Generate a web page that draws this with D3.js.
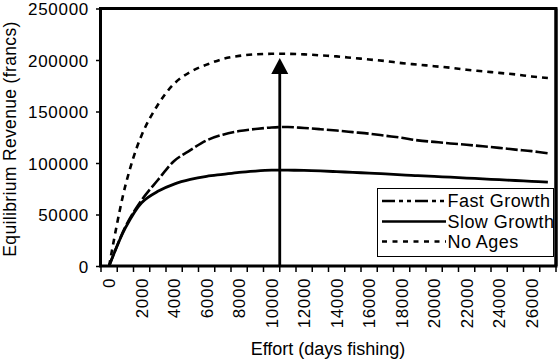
<!DOCTYPE html>
<html>
<head>
<meta charset="utf-8">
<script src="https://cdnjs.cloudflare.com/ajax/libs/d3/7.8.5/d3.min.js"></script>
<style>
  html, body { margin: 0; padding: 0; background: #fff; }
  svg { display: block; }
  text { font-family: "Liberation Sans", Arial, sans-serif; fill: #000; }
</style>
</head>
<body>
<svg id="chart" width="558" height="359"></svg>
<script>
// ---- data ----
const efforts = [0,1000,2000,3000,4000,5000,6000,7000,8000,9000,10000,11000,12000,13000,
                 14000,15000,16000,17000,18000,19000,20000,21000,22000,23000,24000,25000,26000,27000];
const fastGrowth = [0,38000,64000,83500,102000,112500,122000,127500,131000,133000,134500,135000,134000,132800,
                    131500,130000,128500,126500,124500,122000,120500,119000,117700,116200,114700,113000,111500,109500];
const slowGrowth = [0,37000,61500,72500,79500,84000,87000,89000,91000,92200,93000,93000,92800,92300,
                    91600,90900,90200,89500,88500,87800,87000,86200,85400,84600,83800,83000,82200,81400];
const noAges = [0,78000,127000,156500,177000,188500,195500,201000,204000,205500,206000,206000,205500,204500,
                203500,202000,200500,199000,197000,195500,194000,192500,190500,189000,187500,186000,184000,182500];
const yTicks = [0,50000,100000,150000,200000,250000];
const xLabels = [0,2000,4000,6000,8000,10000,12000,14000,16000,18000,20000,22000,24000,26000];
const seriesNames = ["Fast Growth","Slow Growth","No Ages"];
const arrowEffort = 10500;
const arrowTop = 202000;

// ---- layout ----
const svg = d3.select("#chart");
const L = 101, R = 556, T = 8.5, B = 266;
const step = 1000;
const x = d3.scaleLinear().domain([efforts[0] - step/2, efforts[efforts.length-1] + step/2]).range([L, R]);
const y = d3.scaleLinear().domain([0, 250000]).range([B, T]);

// y axis
const yAxis = svg.append("g").attr("transform", `translate(${L},0)`)
  .call(d3.axisLeft(y).tickValues(yTicks).tickSize(5).tickPadding(7).tickFormat(d3.format("d")));
yAxis.select(".domain").remove();
yAxis.selectAll(".tick line").attr("stroke", "#000").attr("stroke-width", 1.5);
yAxis.selectAll(".tick text").attr("font-size", 17).attr("letter-spacing", 0.7)
  .attr("font-family", "Liberation Sans, Arial, sans-serif").attr("dy", "0.36em");

// x axis: tick marks at category boundaries
const boundaries = efforts.map(e => e - step/2).concat([efforts[efforts.length-1] + step/2]);
svg.append("g").selectAll("line").data(boundaries).join("line")
  .attr("x1", d => x(d)).attr("x2", d => x(d))
  .attr("y1", B).attr("y2", B + 6)
  .attr("stroke", "#000").attr("stroke-width", 1.5);
svg.append("g").selectAll("text").data(xLabels).join("text")
  .attr("transform", d => `translate(${x(d)},278) rotate(-90)`)
  .attr("text-anchor", "end").attr("dy", "0.36em")
  .attr("font-size", 17).attr("letter-spacing", 0.6)
  .text(d => d);

// lines (smoothed, as in the reference)
const line = d3.line().curve(d3.curveCatmullRom.alpha(0.5)).x((d, i) => x(efforts[i])).y(d => y(d));
svg.append("path").datum(noAges).attr("d", line)
  .attr("fill", "none").attr("stroke", "#000").attr("stroke-width", 2.6).attr("stroke-dasharray", "6,5");
svg.append("path").datum(fastGrowth).attr("d", line)
  .attr("fill", "none").attr("stroke", "#000").attr("stroke-width", 2.6).attr("stroke-dasharray", "12,3");
svg.append("path").datum(slowGrowth).attr("d", line)
  .attr("fill", "none").attr("stroke", "#000").attr("stroke-width", 2.8);

// arrow
const ax = x(arrowEffort);
const tipY = y(arrowTop);
svg.append("line").attr("x1", ax).attr("x2", ax).attr("y1", y(0)).attr("y2", tipY + 12)
  .attr("stroke", "#000").attr("stroke-width", 2.8);
svg.append("path")
  .attr("d", `M${ax},${tipY} L${ax - 8.5},${tipY + 16} L${ax + 8.5},${tipY + 16} Z`)
  .attr("fill", "#000");

// plot frame
svg.append("rect").attr("x", L - 0.5).attr("y", T).attr("width", R - L + 0.5).attr("height", B - T)
  .attr("fill", "none").attr("stroke", "#000").attr("stroke-width", 3);

// legend
const lg = svg.append("g");
lg.append("rect").attr("x", 377.5).attr("y", 188.5).attr("width", 176).attr("height", 68)
  .attr("fill", "#fff").attr("stroke", "#000").attr("stroke-width", 1);
const legendDash = ["13,4,4,4,4,4", null, "5,5.5"];
const rowY = [201, 221.5, 241.5];
seriesNames.forEach((name, i) => {
  lg.append("line").attr("x1", 382).attr("x2", 446).attr("y1", rowY[i]).attr("y2", rowY[i])
    .attr("stroke", "#000").attr("stroke-width", 2.6)
    .attr("stroke-dasharray", legendDash[i]);
  lg.append("text").attr("x", 447.5).attr("y", rowY[i]).attr("dy", "0.36em")
    .attr("font-size", 18).attr("letter-spacing", 0.45).text(name);
});

// re-draw right frame edge above legend
svg.append("line").attr("x1", R).attr("x2", R).attr("y1", T).attr("y2", B)
  .attr("stroke", "#000").attr("stroke-width", 3);

// axis titles
svg.append("text").attr("x", 328).attr("y", 355).attr("text-anchor", "middle")
  .attr("font-size", 18).text("Effort (days fishing)");
svg.append("text").attr("transform", "translate(15.5,139) rotate(-90)").attr("text-anchor", "middle")
  .attr("font-size", 17.5).attr("letter-spacing", 0.35).text("Equilibrium Revenue (francs)");
</script>
</body>
</html>
